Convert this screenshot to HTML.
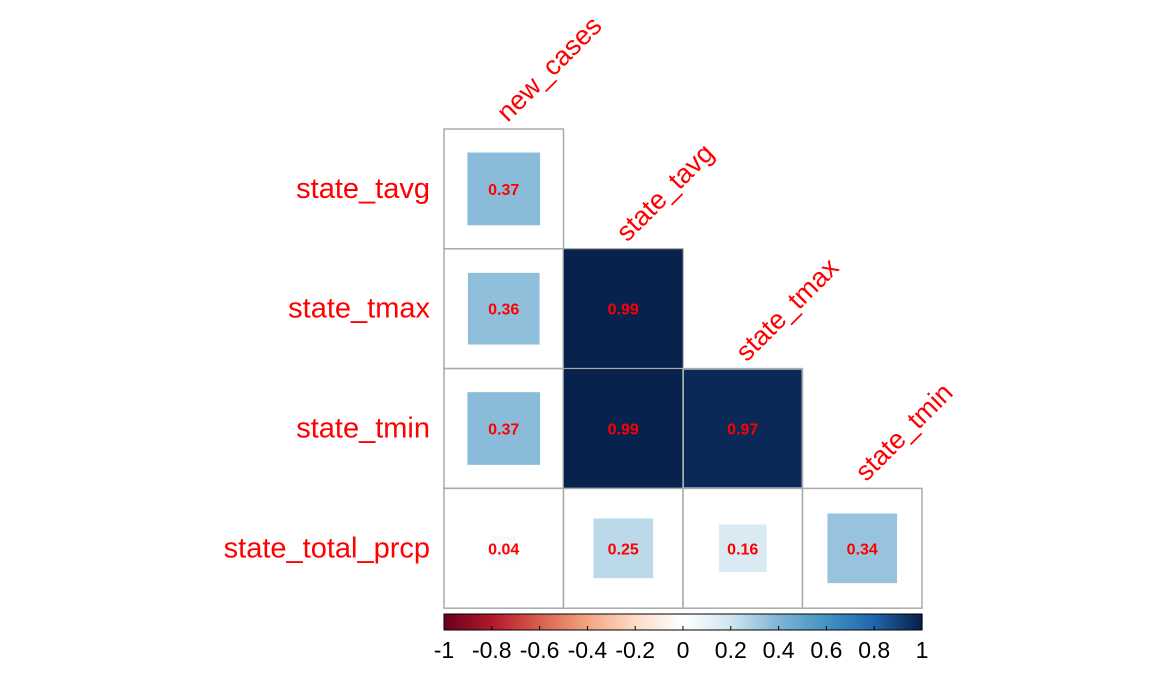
<!DOCTYPE html>
<html><head><meta charset="utf-8"><style>
body{margin:0;background:#fff;}
svg text{font-family:"Liberation Sans",Arial,sans-serif;}
</style></head><body>
<svg id="chart" width="1152" height="691" xmlns="http://www.w3.org/2000/svg"></svg>
<script>
const rowLabels=["state_tavg","state_tmax","state_tmin","state_total_prcp"];
const colLabels=["new_cases","state_tavg","state_tmax","state_tmin"];
const corr=[[0.37],[0.36,0.99],[0.37,0.99,0.97],[0.04,0.25,0.16,0.34]];
const barTicks=["-1","-0.8","-0.6","-0.4","-0.2","0","0.2","0.4","0.6","0.8","1"];
const pal=["#67001F","#B2182B","#D6604D","#F4A582","#FDDBC7","#FFFFFF","#D1E5F0","#7EB5D6","#4393C3","#2166AC","#061E47"];
const NS="http://www.w3.org/2000/svg",svg=document.getElementById('chart');
const x0=444,y0=129,cw=119.5,ch=119.8;
function mk(t,a){const e=document.createElementNS(NS,t);for(const k in a)e.setAttribute(k,a[k]);svg.appendChild(e);return e;}
function hex(h){return [1,3,5].map(i=>parseInt(h.substr(i,2),16));}
function col(v){let p=(v+1)/2*(pal.length-1);let i=Math.min(Math.floor(p),pal.length-2),f=p-i;const a=hex(pal[i]),b=hex(pal[i+1]);return `rgb(${a.map((c,k)=>Math.round(c+(b[k]-c)*f)).join(',')})`;}
corr.forEach((row,r)=>{row.forEach((v,c)=>{
 const x=x0+c*cw,y=y0+r*ch;
 const cell=mk('rect',{x:x,y:y,width:cw,height:ch,fill:'#fff',stroke:'#aaaaaa','stroke-width':1.5});
 
 const s=Math.sqrt(Math.abs(v))*cw;
 const sq=mk('rect',{x:x+(cw-s)/2,y:y+(ch-s)/2,width:s,height:s,fill:col(v)});
 
 const t=mk('text',{x:x+cw/2,y:y+ch/2+6,'text-anchor':'middle','font-size':16,'font-weight':'bold',fill:'#ff0000'});
 t.textContent=v.toFixed(2);
});});
rowLabels.forEach((l,r)=>{const t=mk('text',{x:430,y:y0+r*ch+ch/2+9,'text-anchor':'end','font-size':29,fill:'#ff0000'});t.textContent=l;
 });
colLabels.forEach((l,c)=>{const x=x0+c*cw+cw/2+4,y=y0+c*ch-6;
 const t=mk('text',{x:x,y:y,'font-size':27,fill:'#ff0000',transform:`rotate(-45 ${x} ${y})`});t.textContent=l;
 });
const bx=444,bw=478,by=614,bh=16,N=200;
for(let i=0;i<N;i++){const v=-1+2*(i+0.5)/N;const r=mk('rect',{x:bx+i*bw/N,y:by,width:bw/N+0.6,height:bh,fill:col(v)});
 }
const fr=mk('rect',{x:bx,y:by,width:bw,height:bh,fill:'none',stroke:'#000','stroke-width':1});

barTicks.forEach((l,i)=>{const x=bx+i*bw/(barTicks.length-1);
 const tk=mk('line',{x1:x,x2:x,y1:by+bh-4,y2:by+bh,stroke:'#000'});
 const t=mk('text',{x:x,y:658,'text-anchor':'middle','font-size':23,fill:'#000'});t.textContent=l;
 });
</script>
</body></html>
